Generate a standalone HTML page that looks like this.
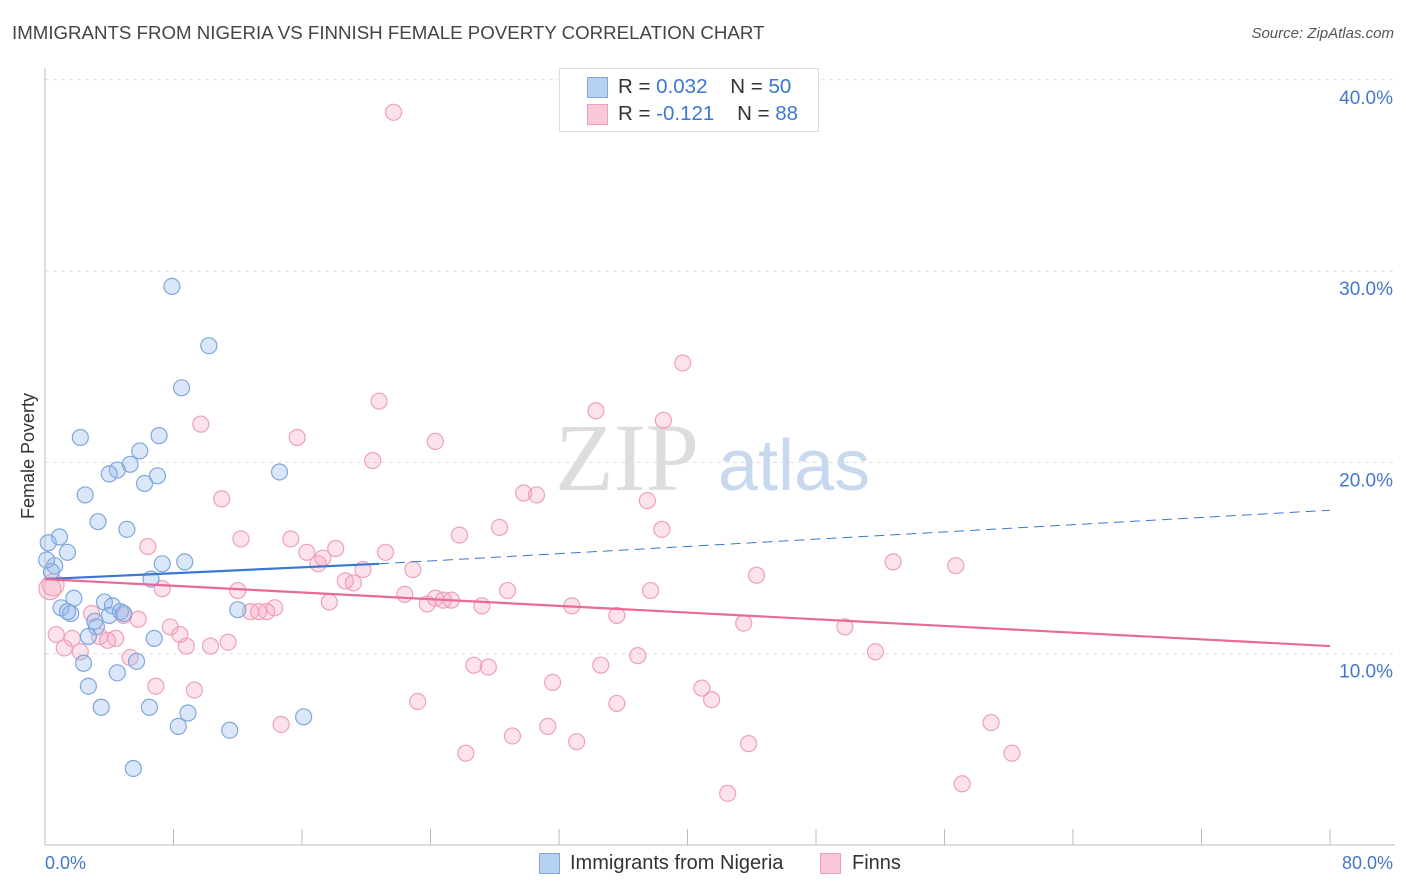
<!DOCTYPE html>
<html><head><meta charset="utf-8"><style>
body{margin:0;background:#fff;font-family:"Liberation Sans",sans-serif;}
#wrap{position:relative;width:1406px;height:892px;overflow:hidden;}
.t{position:absolute;white-space:nowrap;}
</style></head><body>
<div id="wrap">
<div class="t" style="left:12px;top:22px;font-size:18.7px;color:#444;">IMMIGRANTS FROM NIGERIA VS FINNISH FEMALE POVERTY CORRELATION CHART</div>
<div class="t" style="right:12px;top:25px;font-size:15px;color:#555;font-style:italic;">Source: ZipAtlas.com</div>
<svg id="svg" width="1406" height="892" style="position:absolute;left:0;top:0"></svg>
</div>
<script>
const yTicks=[10,20,30,40];
const xTickLabels=["0.0%","80.0%"];
const blueX=[7.9,10.2,8.5,2.2,7.1,5.9,5.3,4.5,4.0,7.0,6.2,2.5,14.6,3.3,5.1,0.9,0.2,1.4,0.6,0.4,7.3,8.7,6.6,1.8,1.0,1.6,1.4,3.7,4.2,4.7,4.0,4.9,12.0,3.1,3.2,2.7,6.8,5.7,2.4,4.5,2.7,3.5,6.5,8.9,8.3,11.5,16.1,5.5,0.1];
const blueY=[29.2,26.1,23.9,21.3,21.4,20.6,19.9,19.6,19.4,19.3,18.9,18.3,19.5,16.9,16.5,16.1,15.8,15.3,14.6,14.3,14.7,14.8,13.9,12.9,12.4,12.1,12.2,12.7,12.5,12.2,12.0,12.1,12.3,11.7,11.4,10.9,10.8,9.6,9.5,9.0,8.3,7.2,7.2,6.9,6.2,6.0,6.7,4.0,14.9];
const pinkX=[21.7,39.7,20.8,34.3,38.5,9.7,15.7,24.3,20.4,29.8,30.6,11.0,37.5,28.3,38.4,25.8,12.2,15.3,6.4,18.1,16.3,21.2,17.3,17.0,19.8,22.9,52.8,56.7,44.3,18.7,19.2,12.0,7.3,22.4,28.8,37.7,24.3,24.8,25.3,23.8,17.7,27.2,32.8,14.3,12.8,13.3,13.8,35.6,5.8,2.9,4.9,7.8,0.7,8.4,1.7,3.4,4.4,3.9,43.5,49.8,11.4,8.8,10.3,1.2,2.2,5.3,51.7,36.9,26.7,27.6,34.6,6.9,9.3,31.6,40.9,41.5,23.2,35.6,58.9,14.7,31.3,29.1,33.1,43.8,26.2,60.2,42.5,57.1,0.5,0.3];
const pinkY=[38.3,25.2,23.2,22.7,22.2,22.0,21.3,21.1,20.1,18.4,18.3,18.1,18.0,16.6,16.5,16.2,16.0,16.0,15.6,15.5,15.3,15.3,15.0,14.7,14.4,14.4,14.8,14.6,14.1,13.8,13.7,13.3,13.4,13.1,13.3,13.3,12.9,12.8,12.8,12.6,12.7,12.5,12.5,12.4,12.2,12.2,12.2,12.0,11.8,12.1,12.0,11.4,11.0,11.0,10.8,10.9,10.8,10.7,11.6,11.4,10.6,10.4,10.4,10.3,10.1,9.8,10.1,9.9,9.4,9.3,9.4,8.3,8.1,8.5,8.2,7.6,7.5,7.4,6.4,6.3,6.2,5.7,5.4,5.3,4.8,4.8,2.7,3.2,13.6,13.4];
const blueTrend=[13.9,14.7,17.5];
const blueTrendX=[0,20.8,80];
const pinkTrend=[13.9,10.4];
const pinkTrendX=[0,80];

const X=v=>45+v*16.0625, Y=v=>845-v*19.13;
const svg=document.getElementById('svg');
const NS='http://www.w3.org/2000/svg';
function mk(tag,attrs){const e=document.createElementNS(NS,tag);for(const k in attrs)e.setAttribute(k,attrs[k]);svg.appendChild(e);return e;}
let w=mk('text',{x:555,y:490,'font-size':96,'font-family':'Liberation Serif,serif',fill:'#ddd'});w.textContent='ZIP';


let w2=mk('text',{x:718,y:490,'font-size':72,'font-family':'Liberation Sans,sans-serif',fill:'#c8d8ee'});w2.textContent='atlas';


yTicks.forEach(v=>{
 const l=mk('line',{x1:45,x2:1395,y1:Y(v),y2:Y(v),stroke:'#ddd','stroke-dasharray':'4,4'});
 
 
 const t=mk('text',{x:1393,y:Y(v)+24,'text-anchor':'end','font-size':19,fill:'#4477cc'});t.textContent=v.toFixed(1)+'%';
 
 
});
let ax=mk('line',{x1:45,x2:1395,y1:845,y2:845,stroke:'#bbb'});


let ay=mk('line',{x1:45,x2:45,y1:68,y2:845,stroke:'#bbb'});


for(let i=0;i<=10;i++){const tk=mk('line',{x1:X(i*8),x2:X(i*8),y1:829,y2:845,stroke:'#bbb'});
 
 }
let xl=mk('text',{x:45,y:869,'font-size':18,fill:'#4477cc'});xl.textContent=xTickLabels[0];


let xr=mk('text',{x:1393,y:869,'text-anchor':'end','font-size':18,fill:'#4477cc'});xr.textContent=xTickLabels[1];


let yt=mk('text',{x:34,y:456,'text-anchor':'middle','font-size':18,fill:'#333',transform:'rotate(-90 34 456)'});yt.textContent='Female Poverty';


pinkX.forEach((x,i)=>{const c=mk('circle',{cx:X(x),cy:Y(pinkY[i]),r:i>=88?11:8,fill:'rgba(244,160,190,0.3)',stroke:'#eea0bb','stroke-width':1.2});
 
 });
blueX.forEach((x,i)=>{const c=mk('circle',{cx:X(x),cy:Y(blueY[i]),r:8,fill:'rgba(150,185,235,0.35)',stroke:'#7fa6dd','stroke-width':1.2});
 
 });
let bt=mk('line',{x1:X(blueTrendX[0]),y1:Y(blueTrend[0]),x2:X(blueTrendX[1]),y2:Y(blueTrend[1]),stroke:'#3a78d4','stroke-width':2.2});


let bd=mk('line',{x1:X(blueTrendX[1]),y1:Y(blueTrend[1]),x2:X(blueTrendX[2]),y2:Y(blueTrend[2]),stroke:'#3a78d4','stroke-width':1,'stroke-dasharray':'10,6'});


let pt=mk('line',{x1:X(pinkTrendX[0]),y1:Y(pinkTrend[0]),x2:X(pinkTrendX[1]),y2:Y(pinkTrend[1]),stroke:'#e86a98','stroke-width':2.2});


</script>
<div class="t" style="left:559px;top:68px;width:258px;height:62px;border:1px solid #ddd;background:#fff;">
 <div style="position:absolute;left:27px;top:8px;width:19px;height:19px;background:#b8d0f2;border:1px solid #7fa6dd;"></div>
 <div class="t" style="left:58px;top:6px;font-size:20.5px;color:#333;">R = <span style="color:#3a78d4">0.032</span>&nbsp;&nbsp;&nbsp;&nbsp;N = <span style="color:#3a78d4">50</span></div>
 <div style="position:absolute;left:27px;top:35px;width:19px;height:19px;background:#f8c8d8;border:1px solid #eea0bb;"></div>
 <div class="t" style="left:58px;top:33px;font-size:20.5px;color:#333;">R = <span style="color:#3a78d4">-0.121</span>&nbsp;&nbsp;&nbsp;&nbsp;N = <span style="color:#3a78d4">88</span></div>
</div>
<div class="t" style="left:539px;top:853px;width:19px;height:19px;background:#b8d0f2;border:1px solid #7fa6dd;"></div>
<div class="t" style="left:570px;top:852px;font-size:20px;color:#333;">Immigrants from Nigeria</div>
<div class="t" style="left:820px;top:853px;width:19px;height:19px;background:#f8c8d8;border:1px solid #eea0bb;"></div>
<div class="t" style="left:852px;top:852px;font-size:20px;color:#333;">Finns</div>
</body></html>
